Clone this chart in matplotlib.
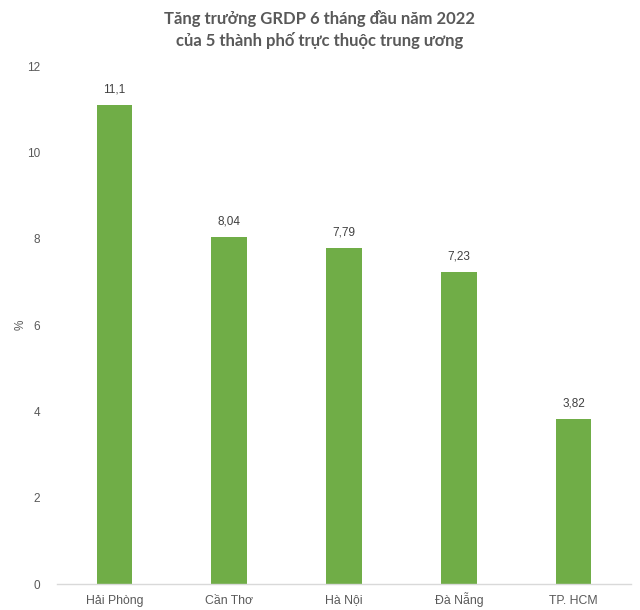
import matplotlib
matplotlib.use("Agg")
import matplotlib.pyplot as plt
import matplotlib.transforms as mtransforms
import unicodedata

categories = ["Hải Phòng", "Cần Thơ", "Hà Nội", "Đà Nẵng", "TP. HCM"]
values = [11.1, 8.04, 7.79, 7.23, 3.82]
value_labels = ["11,1", "8,04", "7,79", "7,23", "3,82"]
yticks = [0, 2, 4, 6, 8, 10, 12]
title = "Tăng trưởng GRDP 6 tháng đầu năm 2022\ncủa 5 thành phố trực thuộc trung ương"

fig = plt.figure(figsize=(6.4, 6.1), dpi=100)
ax = fig.add_axes([0.089, 0.0426, 0.897, 0.8492])
x = list(range(len(categories)))
bars = ax.bar(x, values, width=0.31, color="#70AD47", zorder=2)
ax.set_xlim(-0.5, len(categories) - 0.5)
ax.set_ylim(0, 12)
ax.set_yticks(yticks)
ax.set_yticklabels([str(t) for t in yticks], fontfamily="Liberation Sans", fontsize=8.5, color="#595959")
ax.set_xticks(x)
ax.set_xticklabels([])
ax.tick_params(axis="both", length=0)
ax.tick_params(axis="y", pad=12)
trans = mtransforms.blended_transform_factory(ax.transData, ax.transAxes) + \
    mtransforms.ScaledTranslation(0, -0.195, fig.dpi_scale_trans)
for xi, c in zip(x, categories):
    ax.text(xi, 0, unicodedata.normalize("NFC", c), transform=trans, ha="center", va="baseline",
            fontfamily="Liberation Sans", fontsize=8.8, color="#595959")
for s in ["top", "right", "left"]:
    ax.spines[s].set_visible(False)
ax.spines["bottom"].set_color("#D9D9D9")
ax.spines["bottom"].set_linewidth(1)
for xi, v, lab in zip(x, values, value_labels):
    ax.annotate(lab, (xi, v), xytext=(0, 7), textcoords="offset points", ha="center", va="bottom",
                fontfamily="Liberation Sans", fontsize=8.5, color="#404040")
ax.set_ylabel("%", fontfamily="Liberation Sans", fontsize=8.5, color="#595959")
ax.yaxis.set_label_coords(-0.052, 0.5)
fig.text(0.5, 0.984, title, ha="center", va="top", fontfamily="Lato", fontweight="bold",
         fontsize=12, color="#595959", linespacing=1.4)
fig.savefig("out.png", dpi=100, facecolor="white")
